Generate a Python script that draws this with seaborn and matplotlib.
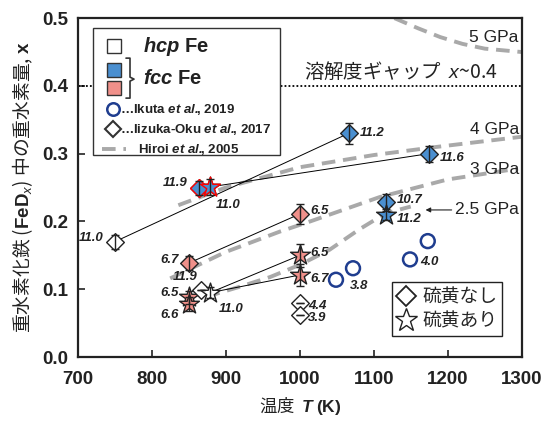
import matplotlib
matplotlib.use("Agg")
import matplotlib.pyplot as plt
from matplotlib.patches import Rectangle
from matplotlib.lines import Line2D
import seaborn as sns
import pandas as pd

# fcc Fe, no sulfur (blue diamonds)
blue_dia_T = [864, 1066, 1174, 1116]
blue_dia_x = [0.249, 0.330, 0.300, 0.228]
blue_dia_err = [0.010, 0.015, 0.012, 0.012]
blue_dia_lab = ["11.9", "11.2", "11.6", "10.7"]
# fcc Fe, with sulfur (blue stars)
blue_star_T = [879, 1116]
blue_star_x = [0.251, 0.210]
blue_star_err = [0.012, 0.008]
blue_star_lab = ["11.0", "11.2"]
# fcc Fe, no sulfur (pink diamonds)
pink_dia_T = [851, 1000]
pink_dia_x = [0.139, 0.211]
pink_dia_err = [0.010, 0.015]
pink_dia_lab = ["6.7", "6.5"]
# fcc Fe, with sulfur (pink stars)
pink_star_T = [851, 851, 1000, 1000]
pink_star_x = [0.088, 0.078, 0.150, 0.121]
pink_star_err = [0.010, 0.010, 0.017, 0.016]
pink_star_lab = ["6.5", "6.6", "6.5", "6.7"]
# hcp Fe
hcp_dia_T = [750, 866, 1000, 1000]
hcp_dia_x = [0.170, 0.099, 0.080, 0.062]
hcp_dia_err = [0.010, 0.0, 0.0, 0.0]
hcp_dia_lab = ["11.0", "11.9", "4.4", "3.9"]
hcp_star_T = [879]
hcp_star_x = [0.095]
hcp_star_err = [0.008]
hcp_star_lab = ["11.0"]

# Ikuta et al. 2019
ikuta_T = [1049, 1072, 1149, 1173]
ikuta_x = [0.114, 0.131, 0.144, 0.171]

# Hiroi et al. 2005 boundaries
hiroi_5_T = [1128, 1160, 1190, 1220, 1250, 1300]
hiroi_5_x = [0.500, 0.485, 0.472, 0.462, 0.455, 0.450]
hiroi_4_T = [836, 900, 960, 1000, 1100, 1185, 1300]
hiroi_4_x = [0.224, 0.250, 0.268, 0.280, 0.298, 0.310, 0.325]
hiroi_3_T = [825, 900, 973, 1014, 1108, 1200, 1295]
hiroi_3_x = [0.116, 0.155, 0.185, 0.200, 0.236, 0.262, 0.278]
hiroi_25_T = [874, 920, 960, 1000, 1040, 1080, 1116, 1150]
hiroi_25_x = [0.089, 0.104, 0.118, 0.136, 0.158, 0.188, 0.212, 0.222]

# tie lines between runs
tie_lines = [((750, 0.170), (1066, 0.330)),
             ((879, 0.251), (1174, 0.300)),
             ((851, 0.139), (1000, 0.211)),
             ((879, 0.095), (1000, 0.150)),
             ((879, 0.095), (1000, 0.121))]

BLUE = "#4a8fd0"
PINK = "#f0908a"
NAVY = "#1f3d8f"
GRAY = "#a9a9a9"
JP = "Noto Sans CJK JP"

sns.set_theme(style="ticks")
plt.rcParams["font.family"] = ["Liberation Sans", JP, "DejaVu Sans"]
plt.rcParams["mathtext.fontset"] = "custom"
plt.rcParams["mathtext.rm"] = "Liberation Sans"
plt.rcParams["mathtext.it"] = "Liberation Sans:italic"
plt.rcParams["mathtext.bf"] = "Liberation Sans:bold"
try:
    plt.rcParams["mathtext.bfit"] = "Liberation Sans:italic:bold"
except KeyError:
    pass

fig = plt.figure(figsize=(5.53, 4.22), dpi=100)
ax = fig.add_axes([0.1405, 0.154, 0.803, 0.803])

# Hiroi curves
for T, x in [(hiroi_5_T, hiroi_5_x), (hiroi_4_T, hiroi_4_x),
             (hiroi_3_T, hiroi_3_x), (hiroi_25_T, hiroi_25_x)]:
    sns.lineplot(x=T, y=x, ax=ax, sort=False, color=GRAY, lw=2.8,
                 linestyle=(0, (3.5, 2)), zorder=2)

# solubility gap
ax.axhline(0.4, color="black", lw=1.3, ls=(0, (1, 1.2)), zorder=1)
ax.text(1136, 0.404, "溶解度ギャップ  $x$~0.4", ha="center", va="bottom",
        fontsize=14, color="#222222", family=JP)

for (t0, x0), (t1, x1) in tie_lines:
    sns.lineplot(x=[t0, t1], y=[x0, x1], ax=ax, color="black", lw=0.7, zorder=3)

groups = [
    (blue_dia_T, blue_dia_x, blue_dia_err, blue_dia_lab, BLUE, "D", 9),
    (blue_star_T, blue_star_x, blue_star_err, blue_star_lab, BLUE, "*", 15),
    (pink_dia_T, pink_dia_x, pink_dia_err, pink_dia_lab, PINK, "D", 9),
    (pink_star_T, pink_star_x, pink_star_err, pink_star_lab, PINK, "*", 15),
    (hcp_dia_T, hcp_dia_x, hcp_dia_err, hcp_dia_lab, "white", "D", 9),
    (hcp_star_T, hcp_star_x, hcp_star_err, hcp_star_lab, "white", "*", 15),
]
for T, x, err, lab, fc, mk, ms in groups:
    df = pd.DataFrame({"T": T, "x": x})
    sns.scatterplot(data=df, x="T", y="x", ax=ax, marker=mk, s=ms ** 2,
                    color=fc, edgecolor="#222222", linewidth=1.0, zorder=5,
                    legend=False)
    ax.errorbar(T, x, yerr=err, fmt="none", ecolor="#222222", elinewidth=1.0,
                capsize=3, capthick=1.0, zorder=6)

# red-edged pair at 11.9 / 11.0 GPa
sns.scatterplot(x=[864], y=[0.249], ax=ax, marker="D", s=81, color=BLUE,
                edgecolor="red", linewidth=1.0, zorder=5)
sns.scatterplot(x=[879], y=[0.251], ax=ax, marker="*", s=225, color=BLUE,
                edgecolor="red", linewidth=1.0, zorder=5)

sns.scatterplot(x=ikuta_T, y=ikuta_x, ax=ax, marker="o", s=100,
                facecolor="none", edgecolor=NAVY, linewidth=1.8, zorder=5)

# point labels (pressure, GPa)
offsets = {
    ("11.9", 864): (-8, 4, "right"), ("11.2", 1066): (8, 0, "left"),
    ("11.6", 1174): (8, -3, "left"), ("10.7", 1116): (8, 2, "left"),
    ("11.0", 879): (4, -13, "left"), ("11.2", 1116): (8, -3, "left"),
    ("6.7", 851): (-8, 2, "right"), ("6.5", 1000): (8, 2, "left"),
    ("6.6", 851): (-8, -8, "right"), ("11.0", 750): (-8, 3, "right"),
    ("11.9", 866): (-2, 9, "right"), ("4.4", 1000): (6, -2, "left"),
    ("3.9", 1000): (6, -2, "left"),
}
lab_kw = dict(textcoords="offset points", va="center", fontsize=9.5,
              fontweight="bold", fontstyle="italic", color="#222222", zorder=7)
for T, x, err, lab, fc, mk, ms in groups:
    for t, v, l in zip(T, x, lab):
        dx, dy, ha = offsets.get((l, t), (8, -3, "left"))
        if l == "6.5" and t == 851:
            dx, dy, ha = -8, 3, "right"
        if l == "11.0" and t == 879 and fc == "white":
            dx, dy, ha = 6, -12, "left"
        ax.annotate(l, (t, v), xytext=(dx, dy), ha=ha, **lab_kw)
ax.annotate("3.8", (1072, 0.131), xytext=(-2, -13), ha="left", **lab_kw)
ax.annotate("4.0", (1149, 0.144), xytext=(7, -2), ha="left", **lab_kw)

# pressure labels for Hiroi curves
plab = dict(ha="right", va="center", fontsize=12.5, color="#222222")
ax.text(1296, 0.472, "5 GPa", **plab)
ax.text(1296, 0.336, "4 GPa", **plab)
ax.text(1296, 0.277, "3 GPa", **plab)
ax.annotate("2.5 GPa", xy=(1170, 0.217), xytext=(1296, 0.217),
            arrowprops=dict(arrowstyle="-|>", lw=0.8, color="#222222",
                            shrinkA=52, shrinkB=0, mutation_scale=7), **plab)

ax.set_xlim(700, 1300)
ax.set_ylim(0, 0.5)
ax.set_xticks([700, 800, 900, 1000, 1100, 1200, 1300])
ax.set_yticks([0.0, 0.1, 0.2, 0.3, 0.4, 0.5])
ax.set_yticklabels(["0.0", "0.1", "0.2", "0.3", "0.4", "0.5"])
ax.tick_params(direction="in", length=5, width=1.2, labelsize=13.5, colors="#222222")
ax.tick_params(axis="x", pad=10)
ax.tick_params(axis="y", pad=7)
for lb in ax.get_xticklabels() + ax.get_yticklabels():
    lb.set_fontweight("bold")
for sp in ax.spines.values():
    sp.set_linewidth(1.6)
    sp.set_color("#222222")
    sp.set_visible(True)
ax.set_xlabel(r"温度  $\mathbfit{T}$ $\mathbf{(K)}$", fontsize=12.5, color="#222222",
              labelpad=5, family=JP)
ax.set_ylabel(r"重水素化鉄 ($\mathbf{FeD}_{\mathit{x}}$) 中の重水素量, $\mathbf{x}$",
              fontsize=13.5, color="#222222", labelpad=5, family=JP)


# legend box 1 drawn in axes fraction (pixel-based layout)
def px(x, y):
    return ((x - 77.7) / 444.0, (357.0 - y) / 339.0)


kw = dict(transform=ax.transAxes, clip_on=False)
x0, y0 = px(93, 155)
x1, y1 = px(280, 28)
ax.add_patch(Rectangle((x0, y0), x1 - x0, y1 - y0, facecolor="white",
                       edgecolor="#333333", lw=1.0, zorder=8, **kw))
for cy, fc in [(46, "white"), (70, BLUE), (88, PINK)]:
    cx0, cy0 = px(107, cy + 7)
    cx1, cy1 = px(121, cy - 7)
    ax.add_patch(Rectangle((cx0, cy0), cx1 - cx0, cy1 - cy0, facecolor=fc,
                           edgecolor="#333333", lw=1.0, zorder=9, **kw))
bx = [px(126, 58), px(130, 58), px(130, 77), px(134, 79), px(130, 81),
      px(130, 98), px(126, 98)]
ax.add_line(Line2D([p[0] for p in bx], [p[1] for p in bx], color="#333333",
                   lw=1.2, zorder=9, **kw))
tx, ty = px(143, 46)
ax.text(tx, ty, r"$\mathbfit{hcp}$ Fe", fontsize=14.5, fontweight="bold", va="center",
        ha="left", color="#222222", zorder=10, **kw)
tx, ty = px(143, 78)
ax.text(tx, ty, r"$\mathbfit{fcc}$ Fe", fontsize=14.5, fontweight="bold", va="center",
        ha="left", color="#222222", zorder=10, **kw)
mx, my = px(113, 109)
ax.add_line(Line2D([mx], [my], marker="o", ms=9, mfc="none", mec=NAVY, mew=1.8,
                   zorder=10, **kw))
leg_kw = dict(fontsize=9.5, fontweight="bold", va="center", ha="left",
              color="#222222", zorder=10, **kw)
tx, ty = px(120, 109)
ax.text(tx, ty, r"…Ikuta $\mathbfit{et\ al.}\!\!$, 2019", **leg_kw)
mx, my = px(113, 129)
ax.add_line(Line2D([mx], [my], marker="D", ms=8, mfc="white", mec="#333333", mew=1.5,
                   zorder=10, **kw))
tx, ty = px(120, 129)
ax.text(tx, ty, r"…Iizuka-Oku $\mathbfit{et\ al.}\!\!$, 2017", **leg_kw)
lx0, ly = px(102, 149)
lx1, _ = px(126, 149)
ax.add_line(Line2D([lx0, lx1], [ly, ly], color=GRAY, lw=2.8, ls=(0, (3.5, 2)),
                   zorder=10, **kw))
tx, ty = px(138, 149)
ax.text(tx, ty, r"Hiroi $\mathbfit{et\ al.}\!\!$, 2005", **leg_kw)

# sulfur legend
handles = [Line2D([], [], ls="none", marker="D", ms=10, mfc="white", mec="#222222", mew=1.3),
           Line2D([], [], ls="none", marker="*", ms=17, mfc="white", mec="#222222", mew=1.0)]
leg = ax.legend(handles, ["硫黄なし", "硫黄あり"], loc="lower right",
                bbox_to_anchor=(0.956, 0.062), fontsize=13.5, frameon=True,
                fancybox=False, edgecolor="#222222", framealpha=1,
                handlelength=1.0, handletextpad=0.4, borderpad=0.25,
                labelspacing=0.15, borderaxespad=0)
leg.get_frame().set_linewidth(1.0)
for t in leg.get_texts():
    t.set_family(JP)

fig.savefig("out.png", dpi=100)
